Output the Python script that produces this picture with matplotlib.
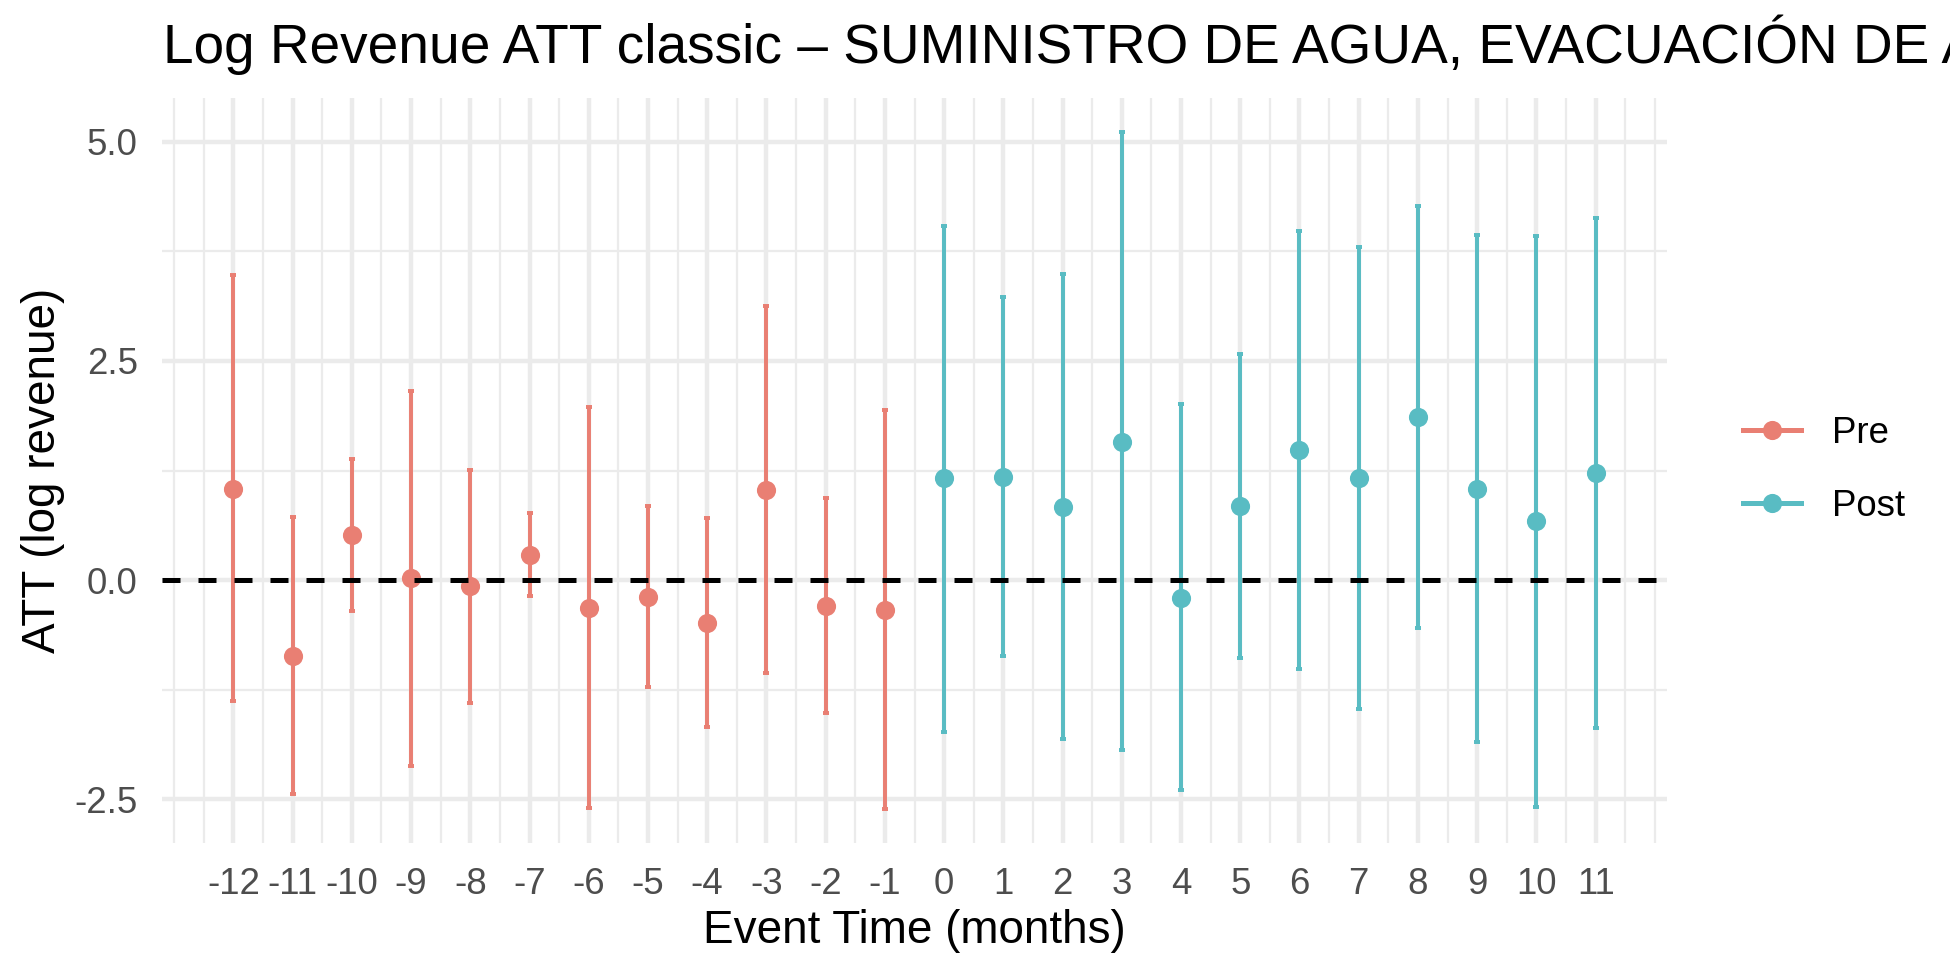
import numpy as np
import matplotlib
matplotlib.use("Agg")
import matplotlib.pyplot as plt
from matplotlib.lines import Line2D

plt.rcParams['font.family'] = ['Liberation Sans', 'DejaVu Sans']
plt.rcParams['axes.unicode_minus'] = False

# event study estimates
pre_time = [-12, -11, -10, -9, -8, -7, -6, -5, -4, -3, -2, -1]
pre_att = [1.04, -0.86, 0.51, 0.02, -0.07, 0.29, -0.32, -0.19, -0.49, 1.03, -0.29, -0.34]
pre_lo = [-1.38, -2.44, -0.35, -2.12, -1.40, -0.18, -2.60, -1.22, -1.67, -1.06, -1.51, -2.61]
pre_hi = [3.48, 0.72, 1.38, 2.16, 1.26, 0.77, 1.97, 0.84, 0.71, 3.13, 0.94, 1.94]

post_time = [0, 1, 2, 3, 4, 5, 6, 7, 8, 9, 10, 11]
post_att = [1.16, 1.18, 0.83, 1.58, -0.20, 0.84, 1.48, 1.16, 1.86, 1.04, 0.67, 1.22]
post_lo = [-1.73, -0.87, -1.81, -1.94, -2.39, -0.89, -1.01, -1.47, -0.54, -1.85, -2.58, -1.68]
post_hi = [4.04, 3.23, 3.49, 5.11, 2.01, 2.58, 3.98, 3.80, 4.26, 3.93, 3.92, 4.13]

title = ("Log Revenue ATT classic \u2013 SUMINISTRO DE AGUA, EVACUACI\u00d3N DE AGUAS "
         "RESIDUALES, GESTI\u00d3N DE DESECHOS Y DESCONTAMINACI\u00d3N")

pre_col = '#E97F73'
post_col = '#59BCC3'
grid_col = '#EBEBEB'

W, H = 1950, 975
fig = plt.figure(figsize=(6.5, 3.25), dpi=300)
ax = fig.add_axes([162 / W, 1 - 843 / H, (1667 - 162) / W, (843 - 98) / H])

for t, est, lo, hi, col in [(pre_time, pre_att, pre_lo, pre_hi, pre_col),
                            (post_time, post_att, post_lo, post_hi, post_col)]:
    t = np.array(t)
    est = np.array(est)
    err = [est - np.array(lo), np.array(hi) - est]
    ax.errorbar(t, est, yerr=err, fmt='none', ecolor=col, elinewidth=0.95,
                capsize=0.8, capthick=0.95, zorder=2)
    ax.plot(t, est, 'o', color=col, markersize=4.6, markeredgewidth=0, zorder=3)

ax.axhline(0, color='black', lw=1.2, ls=(0, (3.6, 3.6)), zorder=4)

# limits with ggplot-style 5% expansion
all_t = pre_time + post_time
xmin, xmax = min(all_t) - 0.05, max(all_t) + 0.05
ymin, ymax = min(pre_lo + post_lo), max(pre_hi + post_hi)
ax.set_xlim(xmin - 0.05 * (xmax - xmin), xmax + 0.05 * (xmax - xmin))
ax.set_ylim(ymin - 0.05 * (ymax - ymin), ymax + 0.05 * (ymax - ymin))

ax.set_xticks(all_t)
ax.set_xticklabels([str(v) for v in all_t])
ax.set_xticks(np.arange(-13, 12.5, 0.5), minor=True)
ax.set_yticks([-2.5, 0, 2.5, 5.0])
ax.set_yticklabels(['-2.5', '0.0', '2.5', '5.0'])
ax.set_yticks([-1.25, 1.25, 3.75], minor=True)

ax.grid(which='major', color=grid_col, lw=1.07)
ax.grid(which='minor', color=grid_col, lw=0.53)
ax.set_axisbelow(True)
for s in ax.spines.values():
    s.set_visible(False)
ax.tick_params(which='both', length=0, labelsize=8.8, labelcolor='#4D4D4D', pad=5.8)

# title runs past the right edge, clipped like the original
fig.text(163 / W, 1 - 63 / H, title, fontsize=13.2, va='baseline', ha='left')
fig.text(914 / W, 1 - 943 / H, 'Event Time (months)', fontsize=11, va='baseline', ha='center')
fig.text(43 / W, 1 - 470 / H, 'ATT (log revenue)', fontsize=11, rotation=90,
         va='center', ha='center')

handles = [Line2D([], [], color=pre_col, lw=1.2, marker='o', markersize=4.6, markeredgewidth=0),
           Line2D([], [], color=post_col, lw=1.2, marker='o', markersize=4.6, markeredgewidth=0)]
fig.legend(handles, ['Pre', 'Post'], loc='center left',
           bbox_to_anchor=(1743 / W, 1 - 470 / H), frameon=False, fontsize=8.8,
           handlelength=1.58, handletextpad=0.84, labelspacing=1.05,
           borderpad=0, borderaxespad=0)

fig.savefig('out.png', dpi=300)
